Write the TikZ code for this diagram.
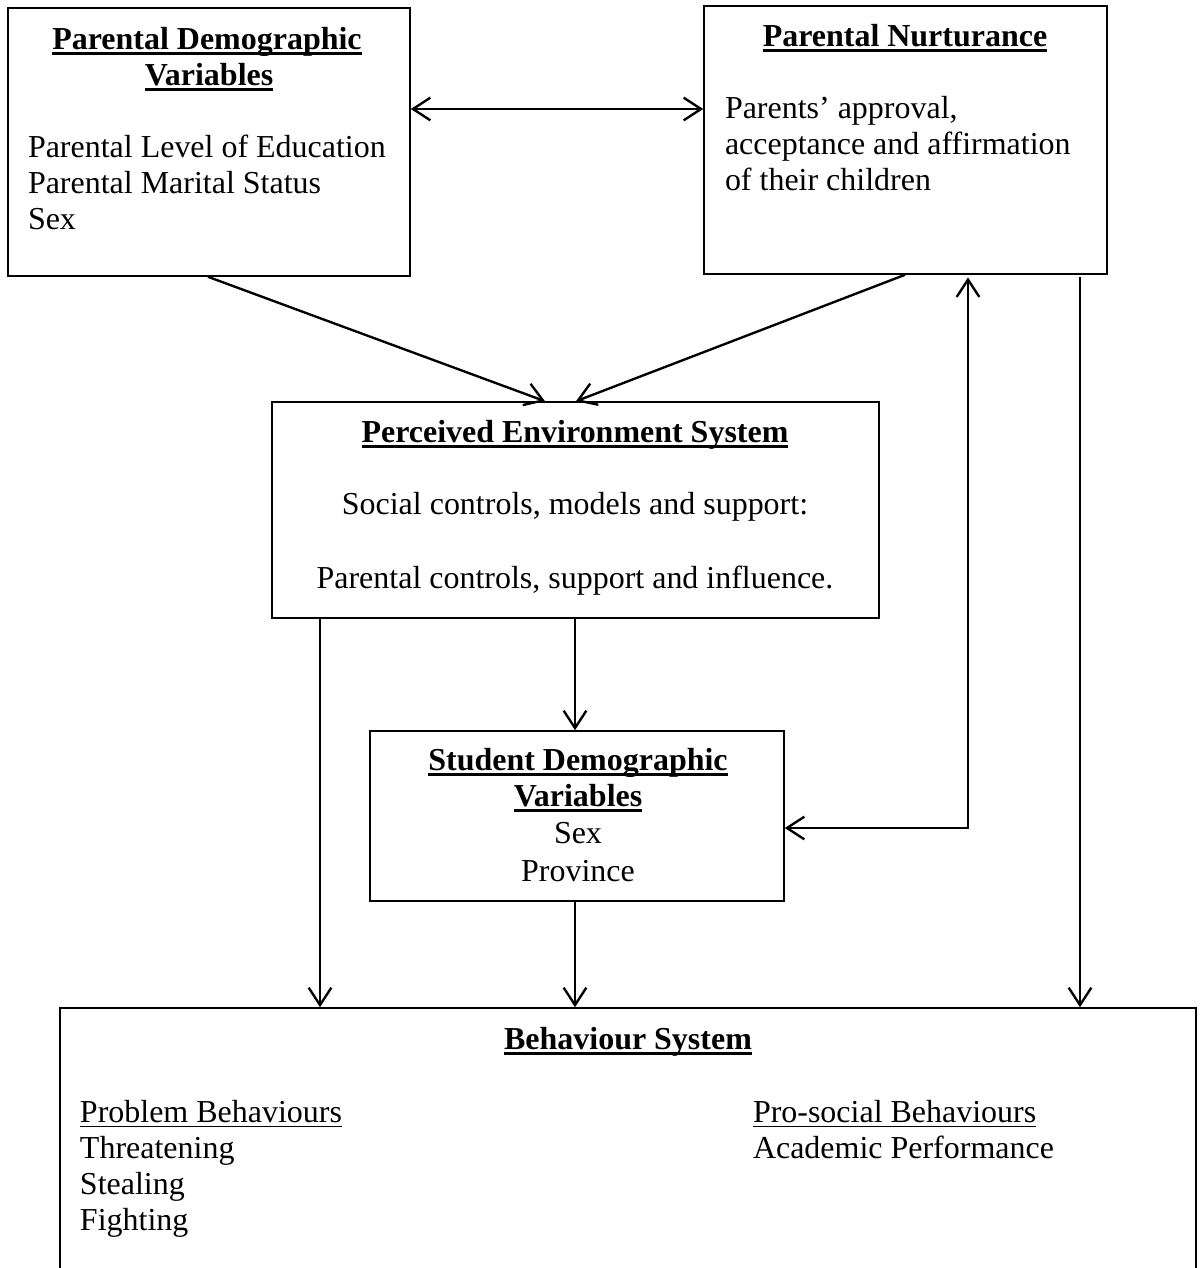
\documentclass[tikz,border=0pt]{standalone}
\usepackage{fontspec}
\setmainfont{Liberation Serif}
\usetikzlibrary{arrows.meta,calc}
\newsavebox\ulbox
\newcommand\hdul[1]{\sbox\ulbox{\bfseries #1}\rlap{\rule[-2.3pt]{\wd\ulbox}{1.1pt}}\usebox\ulbox}
\newcommand\lnul[1]{\sbox\ulbox{#1}\rlap{\rule[-1.9pt]{\wd\ulbox}{0.55pt}}\usebox\ulbox}
\begin{document}
\begin{tikzpicture}[x=0.38pt,y=-0.38pt,
  box/.style={draw,line width=0.6pt,inner sep=0pt,rectangle},
  txt/.style={inner sep=0pt,outer sep=0pt,font=\fontsize{12.15pt}{13.7pt}\selectfont},
  tl/.style={txt,anchor=base west},
  tc/.style={txt,anchor=base},
  arr/.style={line width=0.9pt,-{Straight Barb[length=6.6pt,width=8.6pt]}},
  arrb/.style={line width=0.9pt,{Straight Barb[length=6.6pt,width=8.6pt]}-{Straight Barb[length=6.6pt,width=8.6pt]}}]
\useasboundingbox (0,0) rectangle (1201,1268);
\clip (0,0) rectangle (1201,1268);
% boxes
\node[box,minimum width=402*0.38pt,minimum height=268*0.38pt] (b1) at (209,142) {};
\node[box,minimum width=403*0.38pt,minimum height=268*0.38pt] (b2) at (905.5,140) {};
\node[box,minimum width=607*0.38pt,minimum height=216*0.38pt] (b3) at (575.5,510) {};
\node[box,minimum width=414*0.38pt,minimum height=170*0.38pt] (b4) at (577,816) {};
\node[box,minimum width=1136*0.38pt,minimum height=292*0.38pt] (b5) at (628,1154) {};
% box 1 text
\node[tc] (t1a) at (207,49) {\hdul{Parental Demographic}};
\node[tc] (t1b) at (209,85) {\hdul{Variables}};
\node[tl] (t1c) at (28,157) {Parental Level of Education};
\node[tl] (t1d) at (28,193) {Parental Marital Status};
\node[tl] (t1e) at (28,229) {Sex};
% box 2 text
\node[tc] (t2a) at (905,46) {\hdul{Parental Nurturance}};
\node[tl] (t2b) at (725,118) {Parents’ approval,};
\node[tl] (t2c) at (725,154) {acceptance and affirmation};
\node[tl] (t2d) at (725,190) {of their children};
% box 3 text
\node[tc] (t3a) at (575,442) {\hdul{Perceived Environment System}};
\node[tc] (t3b) at (575,514) {Social controls, models and support:};
\node[tc] (t3c) at (575,588) {Parental controls, support and influence.};
% box 4 text
\node[tc] (t4a) at (578,770) {\hdul{Student Demographic}};
\node[tc] (t4b) at (578,806) {\hdul{Variables}};
\node[tc] (t4c) at (578,843) {Sex};
\node[tc] (t4d) at (578,881) {Province};
% box 5 text
\node[tc] (t5a) at (628,1049) {\hdul{Behaviour System}};
\node[tl] (t5b) at (80,1122) {\lnul{Problem Behaviours}};
\node[tl] (t5c) at (80,1158) {Threatening};
\node[tl] (t5d) at (80,1194) {Stealing};
\node[tl] (t5e) at (80,1230) {Fighting};
\node[tl] (t5f) at (753,1122) {\lnul{Pro-social Behaviours}};
\node[tl] (t5g) at (753,1158) {Academic Performance};
% helper coordinates
\coordinate (ya) at (0,109);
\coordinate (xa) at (208,0);
\coordinate (xb) at (545,0);
\coordinate (xc) at (905,0);
\coordinate (xd) at (576,0);
\coordinate (xm) at (575,0);
\coordinate (xl) at (320,0);
\coordinate (xr) at (1080,0);
\coordinate (elb) at (968,828);
% connectors
\draw[arrb] (b1.east |- ya) -- (b2.west |- ya);
\draw[arr] (b1.south -| xa) -- (b3.north -| xb);
\draw[arr] (b2.south -| xc) -- (b3.north -| xd);
\draw[arr] (b3.south -| xm) -- (b4.north -| xm);
\draw[arr] (b4.south -| xm) -- (b5.north -| xm);
\draw[arr] (b3.south -| xl) -- (b5.north -| xl);
\draw[arr,shorten <=1pt] (b2.south -| xr) -- (b5.north -| xr);
\draw[arrb,shorten >=1pt] (b4.east |- elb) -- (elb) -- (b2.south -| elb);
\end{tikzpicture}
\end{document}
